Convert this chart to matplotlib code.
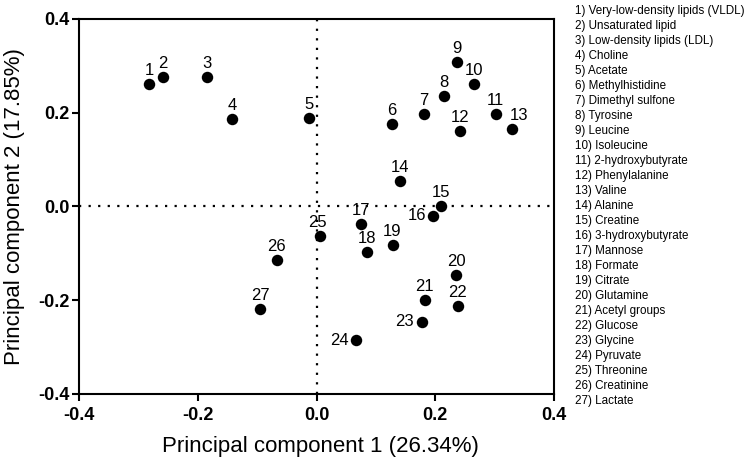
import matplotlib
matplotlib.use("Agg")
import matplotlib.pyplot as plt

plt.rcParams['font.family'] = ['Liberation Sans', 'DejaVu Sans']

ids = list(range(1, 28))
pc1 = [-0.282, -0.259, -0.185, -0.142, -0.013, 0.127, 0.181, 0.215, 0.236, 0.266,
       0.302, 0.241, 0.329, 0.141, 0.209, 0.197, 0.075, 0.085, 0.128, 0.235,
       0.182, 0.238, 0.177, 0.067, 0.006, -0.067, -0.095]
pc2 = [0.261, 0.276, 0.277, 0.187, 0.189, 0.175, 0.197, 0.236, 0.308, 0.262,
       0.197, 0.160, 0.165, 0.055, 0.000, -0.020, -0.038, -0.098, -0.083, -0.146,
       -0.200, -0.212, -0.246, -0.285, -0.063, -0.115, -0.219]
names = ["Very-low-density lipids (VLDL)", "Unsaturated lipid", "Low-density lipids (LDL)",
         "Choline", "Acetate", "Methylhistidine", "Dimethyl sulfone", "Tyrosine", "Leucine",
         "Isoleucine", "2-hydroxybutyrate", "Phenylalanine", "Valine", "Alanine", "Creatine",
         "3-hydroxybutyrate", "Mannose", "Formate", "Citrate", "Glutamine", "Acetyl groups",
         "Glucose", "Glycine", "Pyruvate", "Threonine", "Creatinine", "Lactate"]
xticks = [-0.4, -0.2, 0.0, 0.2, 0.4]
yticks = [-0.4, -0.2, 0.0, 0.2, 0.4]

fig = plt.figure(figsize=(7.49, 4.65), dpi=100)
ax = fig.add_axes([79/749, 1 - 394/465, 475/749, 375/465])

ax.axhline(0, color='black', lw=1.6, linestyle=(0, (1, 3.3)), zorder=1)
ax.axvline(0, color='black', lw=1.6, linestyle=(0, (1, 3.3)), zorder=1)

ax.scatter(pc1, pc2, s=68, color='black', zorder=3, linewidths=0)

left_labels = {16, 23, 24}
special = {13: (5, 6.5), 25: (-2, 6.5)}
for i, x, y in zip(ids, pc1, pc2):
    if i in left_labels:
        ax.annotate(str(i), (x, y), xytext=(-5.5, 0), textcoords='offset points',
                    ha='right', va='center', fontsize=12)
    else:
        off = special.get(i, (0, 6.5))
        ax.annotate(str(i), (x, y), xytext=off, textcoords='offset points',
                    ha='center', va='baseline', fontsize=12)

ax.set_xlim(-0.4, 0.4)
ax.set_ylim(-0.4, 0.4)
ax.set_xticks(xticks)
ax.set_yticks(yticks)
ax.set_xticklabels([f"{v:.1f}" for v in xticks], fontweight='bold', fontsize=13)
ax.set_yticklabels([f"{v:.1f}" for v in yticks], fontweight='bold', fontsize=13)
for s in ax.spines.values():
    s.set_linewidth(1.5)
ax.tick_params(axis='both', width=1.5, length=5, direction='out')
ax.tick_params(axis='x', pad=4)
ax.tick_params(axis='y', pad=2)

ax.set_xlabel("Principal component 1 (26.34%)", fontsize=16)
ax.set_ylabel("Principal component 2 (17.85%)", fontsize=16)
ax.xaxis.set_label_coords(0.508, -0.112)
ax.yaxis.set_label_coords(-0.113, 0.5)

for k, (i, n) in enumerate(zip(ids, names)):
    ypix = 11 + k * 15.0
    fig.text(575/749, 1 - ypix/465, f"{i}) {n}", fontsize=8.4, ha='left', va='center')

fig.savefig("out.png", dpi=100)
